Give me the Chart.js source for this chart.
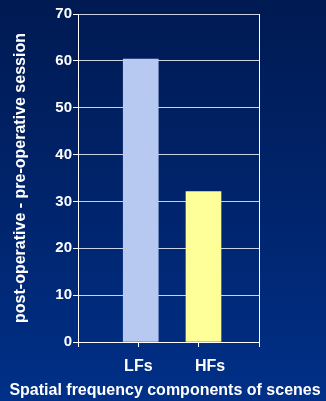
<!DOCTYPE html>
<html>
<head>
<meta charset="utf-8">
<script src="https://cdn.jsdelivr.net/npm/chart.js@4/dist/chart.umd.min.js"></script>
<style>
  html, body { margin: 0; padding: 0; }
  body {
    width: 326px; height: 401px; overflow: hidden;
    background: linear-gradient(to bottom, #001a52 0%, #00246c 50%, #003088 100%);
  }
  #wrap { position: relative; width: 326px; height: 401px; }
</style>
</head>
<body>
<div id="wrap"><canvas id="c" width="326" height="401"></canvas></div>
<script>
const categories = ['LFs', 'HFs'];
const values = [60.4, 32.1];
const barPositions = [1.04, 2.08];
const labelPositions = [1, 2.19];
const yTicks = [0, 10, 20, 30, 40, 50, 60, 70];
const xTitle = 'Spatial frequency components of scenes';
const yTitle = 'post-operative - pre-operative session';
const barColors = ['#b8c9f1', '#ffff99'];

const WHITE = '#ffffff';
const GRID = 'rgba(225,230,242,0.9)';
const FAMILY = "'Liberation Sans', Arial, Helvetica, sans-serif";

new Chart(document.getElementById('c'), {
  type: 'bar',
  data: {
    datasets: [{
      data: categories.map((c, i) => ({ x: barPositions[i], y: values[i] })),
      backgroundColor: barColors,
      borderWidth: 0,
      barThickness: 35
    }]
  },
  options: {
    responsive: false,
    animation: false,
    events: [],
    layout: { padding: { top: 14, right: 0, left: 4, bottom: 0 } },
    plugins: {
      legend: { display: false },
      tooltip: { enabled: false },
      title: {
        display: true, position: 'bottom', text: xTitle, color: WHITE,
        font: { family: FAMILY, size: 16, weight: 'bold', lineHeight: 1.0 },
        padding: { top: 0, bottom: 2 }
      }
    },
    scales: {
      x: {
        type: 'linear',
        offset: false,
        min: 0, max: 3,
        afterBuildTicks: (scale) => {
          const vals = [0, 1, 2, 3].concat(labelPositions.filter(v => v !== 1 && v !== 2));
          vals.sort((a, b) => a - b);
          scale.ticks = vals.map(v => ({ value: v }));
        },
        afterFit: (scale) => { scale.height = 41; },
        ticks: {
          autoSkip: false, maxRotation: 0, minRotation: 0,
          color: WHITE, padding: 12,
          font: { family: FAMILY, size: 16, weight: 'bold', lineHeight: 1.0 },
          callback: (v) => {
            const i = labelPositions.indexOf(v);
            return i >= 0 ? categories[i] : '';
          }
        },
        grid: {
          offset: false,
          drawOnChartArea: false,
          tickColor: (ctx) => (ctx.tick && [0, 1, 2, 3].includes(ctx.tick.value)) ? WHITE : 'transparent',
          tickLength: 5
        },
        border: { color: WHITE, width: 1 }
      },
      y: {
        min: 0, max: 70,
        afterBuildTicks: (scale) => { scale.ticks = yTicks.map(v => ({ value: v })); },
        afterFit: (scale) => { scale.width = 74; },
        ticks: {
          color: WHITE, padding: 1,
          font: { family: FAMILY, size: 15, weight: 'bold' }
        },
        grid: { color: GRID, tickColor: WHITE, tickLength: 5, lineWidth: 1 },
        border: { color: WHITE, width: 1 },
        title: {
          display: true, text: yTitle, color: WHITE,
          font: { family: FAMILY, size: 16, weight: 'bold' },
          padding: { top: 7, bottom: 11 }
        }
      },
      y2: {
        position: 'right',
        min: 0, max: 70,
        ticks: { display: false },
        grid: { drawOnChartArea: false, drawTicks: false },
        border: { color: WHITE, width: 1 },
        afterFit: (scale) => { scale.width = 67; }
      }
    }
  }
});
</script>
</body>
</html>
